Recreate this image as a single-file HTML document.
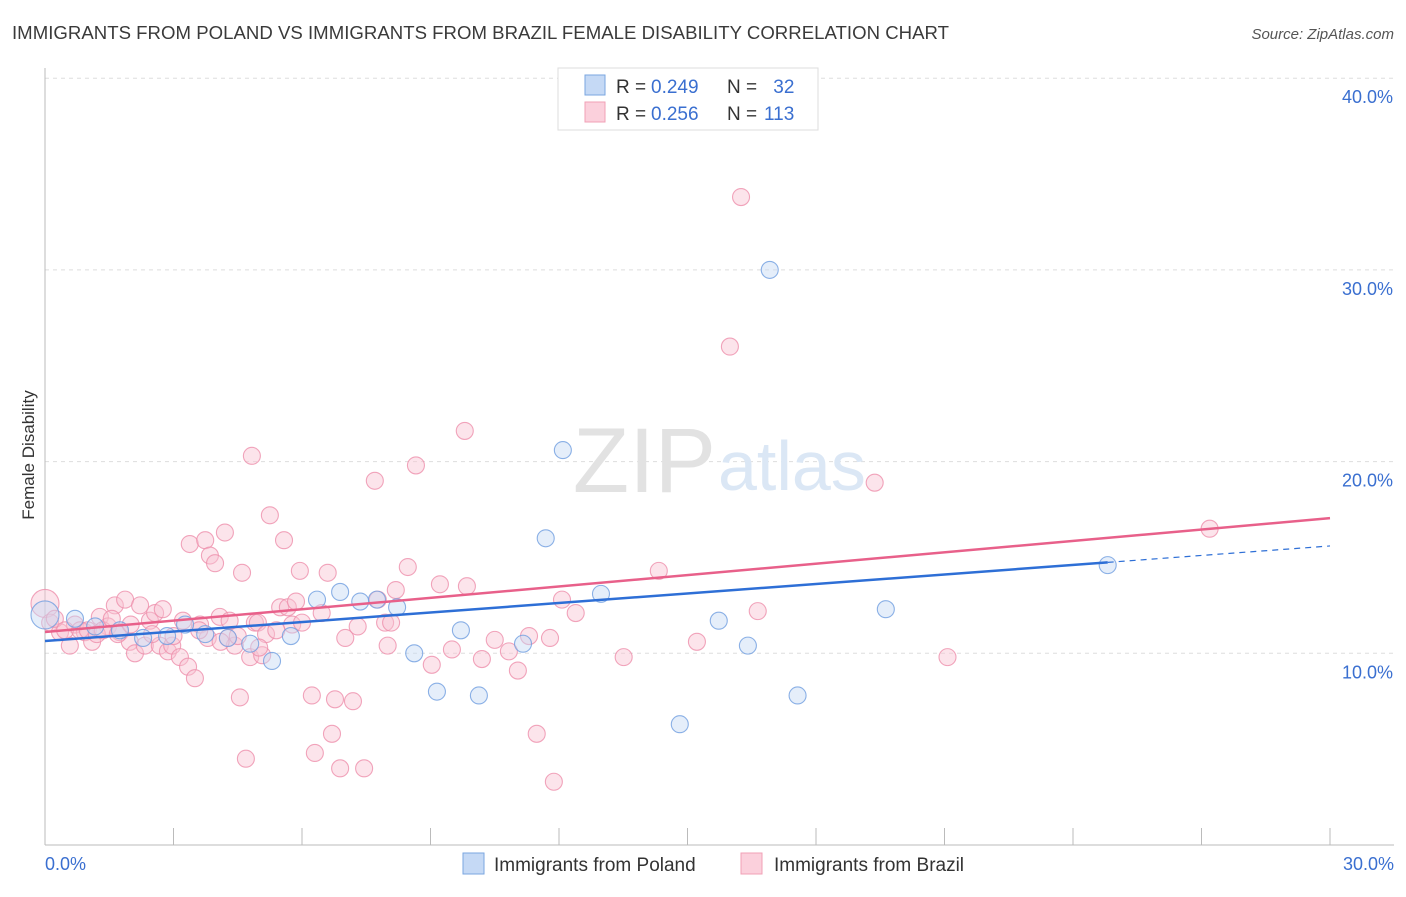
<!DOCTYPE html>
<html><head><meta charset="utf-8"><style>
body{margin:0;background:#fff;font-family:"Liberation Sans",sans-serif}
svg text{font-family:"Liberation Sans",sans-serif}
</style></head><body>
<svg id="chart" width="1406" height="892">
<text x="12" y="39" font-size="18.6" fill="#3a3a3a" textLength="937">IMMIGRANTS FROM POLAND VS IMMIGRANTS FROM BRAZIL FEMALE DISABILITY CORRELATION CHART</text>
<text x="1394" y="39" font-size="15" fill="#555" text-anchor="end" font-style="italic">Source: ZipAtlas.com</text>
<g id="grid"></g>
<text x="716" y="492" font-size="92" fill="#e2e2e2" text-anchor="end" font-family="Liberation Serif">ZIP</text>
<text x="718" y="490" font-size="70" fill="#dbe7f5">atlas</text>
<line x1="45" y1="68" x2="45" y2="845" stroke="#bbb"/>
<line x1="45" y1="845" x2="1394" y2="845" stroke="#bbb"/>
<text transform="translate(34,455) rotate(-90)" font-size="17" fill="#333" text-anchor="middle">Female Disability</text>
<g id="ticks"></g>
<g id="marks"></g>
<g>
<rect x="558" y="68" width="260" height="62" fill="#fff" stroke="#ddd"/>
<rect x="585" y="75" width="20" height="20" fill="#c5d9f5" stroke="#7aa6e0"/>
<rect x="585" y="102" width="20" height="20" fill="#fbd0dc" stroke="#f0a0b6"/>
<text y="93" font-size="19" fill="#333"><tspan x="616">R =</tspan><tspan x="651" fill="#3a6fd0">0.249</tspan><tspan x="727">N =</tspan><tspan x="768" fill="#3a6fd0"> 32</tspan></text>
<text y="120" font-size="19" fill="#333"><tspan x="616">R =</tspan><tspan x="651" fill="#3a6fd0">0.256</tspan><tspan x="727">N =</tspan><tspan x="764" fill="#3a6fd0">113</tspan></text>
</g>
<g>
<rect x="463" y="853" width="21" height="21" fill="#c5d9f5" stroke="#7aa6e0"/>
<text x="494" y="871" font-size="19" fill="#333">Immigrants from Poland</text>
<rect x="741" y="853" width="21" height="21" fill="#fbd0dc" stroke="#f0a0b6"/>
<text x="774" y="871" font-size="19" fill="#333">Immigrants from Brazil</text>
</g>
</svg>
<script>
const yTicks=[10,20,30,40];
const xTickLabels=["0.0%","30.0%"];
const polandX=[0,0.7,1.17,1.75,2.29,2.85,3.27,3.74,4.27,4.79,5.3,5.74,6.35,6.89,7.36,7.75,8.22,8.62,9.15,9.71,10.13,11.16,11.69,12.09,12.98,14.82,15.73,16.41,16.92,17.57,19.63,24.81];
const polandY=[12.0,11.8,11.4,11.2,10.8,10.9,11.5,11.0,10.8,10.5,9.6,10.9,12.8,13.2,12.7,12.8,12.4,10.0,8.0,11.2,7.8,10.5,16.0,20.6,13.1,6.3,11.7,10.4,30.0,7.8,12.3,14.6];
const brazilX=[0,0.12,0.35,0.58,0.7,0.93,1.1,1.28,1.47,1.63,1.75,1.87,1.98,2.1,2.22,2.33,2.45,2.57,2.68,2.75,2.87,2.97,3.15,3.22,3.34,3.38,3.5,3.62,3.74,3.8,3.85,3.97,4.08,4.2,4.27,4.31,4.43,4.55,4.6,4.69,4.79,4.83,4.9,4.97,5.07,5.16,5.25,5.49,5.58,5.67,5.77,5.86,5.95,6.23,6.3,6.46,6.6,6.7,6.77,6.89,7.01,7.19,7.45,7.7,7.77,7.94,8.08,8.19,8.47,8.66,9.03,9.22,9.8,9.85,10.2,10.83,11.04,11.48,11.79,11.88,12.07,12.39,13.51,14.33,15.22,15.99,16.25,16.64,19.37,21.07,27.19,0.23,0.47,0.82,1.0,1.21,1.35,1.56,1.7,2.0,2.5,3.0,3.6,4.1,4.5,5.0,5.4,6.0,7.3,8.0,9.5,10.5,11.3];
const brazilY=[12.6,11.6,11.1,10.4,11.5,11.1,10.6,11.9,11.4,12.5,11.1,12.8,10.6,10.0,12.5,10.4,11.7,12.1,10.4,12.3,10.1,10.4,9.8,11.7,9.3,15.7,8.7,11.5,15.9,10.8,15.1,14.7,11.9,16.3,10.8,11.7,10.4,7.7,14.2,4.5,9.8,20.3,11.6,11.6,9.9,11.0,17.2,12.4,15.9,12.4,11.5,12.7,14.3,7.8,4.8,12.1,14.2,5.8,7.6,4.0,10.8,7.5,4.0,19.0,12.8,11.6,11.6,13.3,14.5,19.8,9.4,13.6,21.6,13.5,9.7,10.1,9.1,5.8,10.8,3.3,12.8,12.1,9.8,14.3,10.6,26.0,33.8,12.2,18.9,9.8,16.5,11.8,11.2,11.2,11.2,11.0,11.2,11.8,11.0,11.5,11.0,10.9,11.2,10.6,10.9,10.3,11.2,11.6,11.4,10.4,10.2,10.7,10.9];
const polandFit=[10.64,15.6], brazilFit=[11.11,17.05];
const sx=v=>45+v/30*1285, sy=v=>845-v*19.17;
const NS="http://www.w3.org/2000/svg";
const grid=document.getElementById('grid'), ticks=document.getElementById('ticks'), marks=document.getElementById('marks');
function mk(tag,attrs,parent){const e=document.createElementNS(NS,tag);for(const k in attrs)e.setAttribute(k,attrs[k]);parent.appendChild(e);return e;}
yTicks.forEach(t=>{
 const l=mk('line',{x1:45,x2:1394,y1:sy(t),y2:sy(t),stroke:'#ddd','stroke-dasharray':'4,4'},grid);
 
 
 const tx=mk('text',{x:1393,y:sy(t)+25,'font-size':18,fill:'#3a6fd0','text-anchor':'end'},ticks);
 tx.textContent=t.toFixed(1)+'%';
 
 
});
for(let i=0;i<=10;i++){const x=sx(i*3);
 const l=mk('line',{x1:x,x2:x,y1:828,y2:845,stroke:'#bbb'},ticks);
 
 }
[[0,'start',45],[30,'end',1394]].forEach((a,i)=>{
 const tx=mk('text',{x:a[2],y:870,'font-size':18,fill:'#3a6fd0','text-anchor':a[1]},ticks);
 tx.textContent=xTickLabels[i];
 
 
});
function dots(X,Y,fill,stroke,name){
 X.forEach((x,i)=>{const c=mk('circle',{cx:sx(x),cy:sy(Y[i]),r:i===0?14:8.5,fill:fill,'fill-opacity':0.45,stroke:stroke,'stroke-opacity':0.8,'stroke-width':1.1},marks);
 
 });
}
dots(brazilX,brazilY,'#f9c3d2','#ee8fab','brazil-point');
dots(polandX,polandY,'#c5d9f5','#6f9de0','poland-point');
const bl=mk('line',{x1:sx(0),y1:sy(polandFit[0]),x2:sx(24.81),y2:sy(polandFit[0]+(polandFit[1]-polandFit[0])*24.81/30),stroke:'#2e6fd6','stroke-width':2.5},marks);


const bd=mk('line',{x1:sx(24.81),y1:sy(polandFit[0]+(polandFit[1]-polandFit[0])*24.81/30),x2:sx(30),y2:sy(polandFit[1]),stroke:'#2e6fd6','stroke-width':1.2,'stroke-dasharray':'6,5'},marks);


const pl=mk('line',{x1:sx(0),y1:sy(brazilFit[0]),x2:sx(30),y2:sy(brazilFit[1]),stroke:'#e8608a','stroke-width':2.5},marks);


</script>
</body></html>
